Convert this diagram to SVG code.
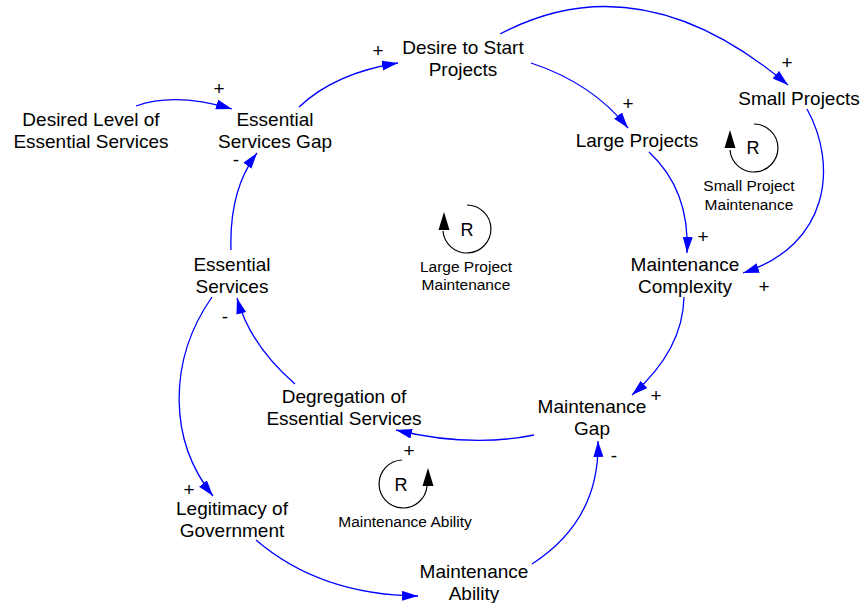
<svg xmlns="http://www.w3.org/2000/svg" width="868" height="603" viewBox="0 0 868 603">
<style>
.n{font-family:"Liberation Sans",Arial,sans-serif;font-size:19px;fill:#000;text-anchor:middle}
.s{font-family:"Liberation Sans",Arial,sans-serif;font-size:15.5px;fill:#000;text-anchor:middle}
.r{font-family:"Liberation Sans",Arial,sans-serif;font-size:18px;fill:#000;text-anchor:middle}
.p{font-family:"Liberation Sans",Arial,sans-serif;font-size:19px;fill:#000;text-anchor:middle}
.c{fill:none;stroke:#0000FF;stroke-width:1.3}
.l{fill:none;stroke:#000;stroke-width:1.2}
</style>
<defs>
<marker id="a" markerWidth="17" markerHeight="11" refX="16" refY="5" orient="auto" markerUnits="userSpaceOnUse"><path d="M0,0 L16,5 L0,10 z" fill="#0000FF"/></marker>
</defs>
<rect width="868" height="603" fill="#fff"/>
<g id="connectors">
<path class="c" marker-end="url(#a)" d="M136,106 Q175,92 232,109"/>
<path class="c" marker-end="url(#a)" d="M299,107 Q335,73 398,63"/>
<path class="c" marker-end="url(#a)" d="M500,34 Q640,-40 788,85"/>
<path class="c" marker-end="url(#a)" d="M531,63 Q592,83 628,128"/>
<path class="c" marker-end="url(#a)" d="M649,152 Q690,190 687,253"/>
<path class="c" marker-end="url(#a)" d="M807,109 C838,165 830,245 743,273"/>
<path class="c" marker-end="url(#a)" d="M684,297 Q683,350 632,395"/>
<path class="c" marker-end="url(#a)" d="M534,435 Q470,448 396,430"/>
<path class="c" marker-end="url(#a)" d="M532,564 Q600,520 598,441"/>
<path class="c" marker-end="url(#a)" d="M256,540 Q320,595 418,596"/>
<path class="c" marker-end="url(#a)" d="M212,297 C168,360 168,440 213,496"/>
<path class="c" marker-end="url(#a)" d="M295,384 Q250,345 237,298"/>
<path class="c" marker-end="url(#a)" d="M231,250 Q229,190 257,153"/>
</g>
<g id="polarities">
<text class="p" x="219" y="95">+</text>
<text class="p" x="378" y="57">+</text>
<text class="p" x="787" y="69">+</text>
<text class="p" x="628" y="110">+</text>
<text class="p" x="703" y="243">+</text>
<text class="p" x="764" y="293">+</text>
<text class="p" x="656" y="402">+</text>
<text class="p" x="409" y="457">+</text>
<text class="p" x="614" y="462">-</text>
<text class="p" x="189" y="496">+</text>
<text class="p" x="225" y="323">-</text>
<text class="p" x="236" y="166">-</text>
</g>
<g id="desire-to-start"><text class="n" x="463" y="54">Desire to Start</text><text class="n" x="463" y="76">Projects</text></g>
<g id="small-projects"><text class="n" x="799" y="105">Small Projects</text></g>
<g id="large-projects"><text class="n" x="637" y="147">Large Projects</text></g>
<g id="desired-level"><text class="n" x="91" y="126">Desired Level of</text><text class="n" x="91" y="148">Essential Services</text></g>
<g id="essential-services-gap"><text class="n" x="275" y="126">Essential</text><text class="n" x="275" y="148">Services Gap</text></g>
<g id="essential-services"><text class="n" x="232" y="271">Essential</text><text class="n" x="232" y="293">Services</text></g>
<g id="maintenance-complexity"><text class="n" x="685" y="271">Maintenance</text><text class="n" x="685" y="293">Complexity</text></g>
<g id="degregation"><text class="n" x="344" y="403">Degregation of</text><text class="n" x="344" y="425">Essential Services</text></g>
<g id="maintenance-gap"><text class="n" x="592" y="413">Maintenance</text><text class="n" x="592" y="435">Gap</text></g>
<g id="legitimacy"><text class="n" x="232" y="515">Legitimacy of</text><text class="n" x="232" y="537">Government</text></g>
<g id="maintenance-ability"><text class="n" x="474" y="578">Maintenance</text><text class="n" x="474" y="600">Ability</text></g>
<g id="loop-large">
<path class="l" d="M467,205 A24,24 0 1 1 443,231"/>
<path d="M444,212 L438.5,230 L449.5,230 z" fill="#000"/>
<text class="r" x="467" y="236">R</text>
<text class="s" x="466" y="272">Large Project</text><text class="s" x="466" y="290">Maintenance</text>
</g>
<g id="loop-small">
<path class="l" d="M754,124 A24,24 0 1 1 730,150"/>
<path d="M730,130 L724.5,148 L735.5,148 z" fill="#000"/>
<text class="r" x="753" y="154">R</text>
<text class="s" x="749" y="191">Small Project</text><text class="s" x="749" y="210">Maintenance</text>
</g>
<g id="loop-ability">
<path class="l" d="M402,460 A24,24 0 1 0 427,486"/>
<path d="M428,468 L422.5,486 L433.5,486 z" fill="#000"/>
<text class="r" x="401" y="491">R</text>
<text class="s" x="405" y="527">Maintenance Ability</text>
</g>
</svg>
